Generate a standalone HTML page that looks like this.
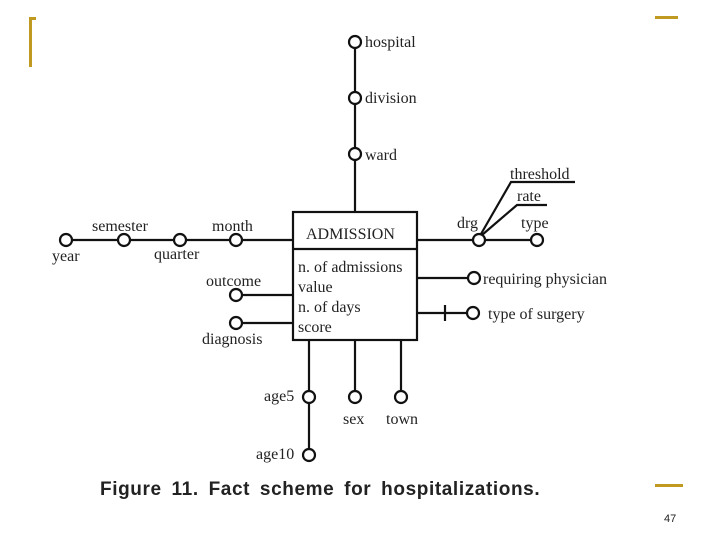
<!DOCTYPE html>
<html><head><style>
body{margin:0;width:720px;height:540px;background:#fff;overflow:hidden}
svg text{font-family:"Liberation Serif",serif;font-size:16px;fill:#222}
</style></head><body>
<svg width="720" height="540" xmlns="http://www.w3.org/2000/svg">
<g fill="#c09a20">
<rect x="29" y="17" width="3" height="50"/><rect x="29" y="17" width="7" height="3"/>
<rect x="655" y="16" width="23" height="3"/><rect x="655" y="484" width="28" height="3"/>
</g>
<g stroke="#111" stroke-width="2.2" fill="none">
<line x1="355" y1="48" x2="355" y2="212"/>
<line x1="72" y1="240" x2="293" y2="240"/>
<line x1="242" y1="295" x2="293" y2="295"/>
<line x1="242" y1="323" x2="293" y2="323"/>
<line x1="417" y1="240" x2="531" y2="240"/>
<line x1="417" y1="278" x2="468" y2="278"/>
<line x1="417" y1="313" x2="467" y2="313"/>
<line x1="445" y1="305" x2="445" y2="321"/>
<line x1="309" y1="340" x2="309" y2="449"/>
<line x1="355" y1="340" x2="355" y2="391"/>
<line x1="401" y1="340" x2="401" y2="391"/>
<polyline points="481,234 511,182 575,182"/>
<polyline points="482,235 517,205 547,205"/>
<rect x="293" y="212" width="124" height="128" fill="#fff"/>
<line x1="293" y1="249" x2="417" y2="249"/>
<g fill="#fff">
<circle cx="355" cy="42" r="6"/><circle cx="355" cy="98" r="6"/><circle cx="355" cy="154" r="6"/>
<circle cx="66" cy="240" r="6"/><circle cx="124" cy="240" r="6"/><circle cx="180" cy="240" r="6"/><circle cx="236" cy="240" r="6"/>
<circle cx="236" cy="295" r="6"/><circle cx="236" cy="323" r="6"/>
<circle cx="479" cy="240" r="6"/><circle cx="537" cy="240" r="6"/>
<circle cx="474" cy="278" r="6"/><circle cx="473" cy="313" r="6"/>
<circle cx="309" cy="397" r="6"/><circle cx="355" cy="397" r="6"/><circle cx="401" cy="397" r="6"/><circle cx="309" cy="455" r="6"/>
</g></g>
<text x="365" y="47">hospital</text>
<text x="365" y="103">division</text>
<text x="365" y="160">ward</text>
<text x="306" y="239">ADMISSION</text>
<text x="298" y="272">n. of admissions</text>
<text x="298" y="292">value</text>
<text x="298" y="312">n. of days</text>
<text x="298" y="332">score</text>
<text x="92" y="231">semester</text>
<text x="212" y="231">month</text>
<text x="52" y="261">year</text>
<text x="154" y="259">quarter</text>
<text x="206" y="286">outcome</text>
<text x="202" y="344">diagnosis</text>
<text x="457" y="228">drg</text>
<text x="521" y="228">type</text>
<text x="510" y="179">threshold</text>
<text x="517" y="201">rate</text>
<text x="483" y="284">requiring physician</text>
<text x="488" y="319">type of surgery</text>
<text x="264" y="401">age5</text>
<text x="256" y="459">age10</text>
<text x="343" y="424">sex</text>
<text x="386" y="424">town</text>
<text x="100" y="495" style="font-family:'Liberation Sans',sans-serif;font-weight:bold;font-size:19px;word-spacing:4px;letter-spacing:0.6px">Figure 11. Fact scheme for hospitalizations.</text>
<text x="664" y="522" style="font-family:'Liberation Sans',sans-serif;font-size:11px">47</text>
</svg>
</body></html>
